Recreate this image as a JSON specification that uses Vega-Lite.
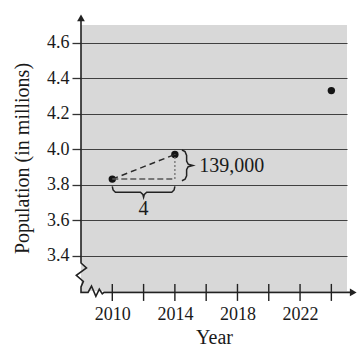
{
  "$schema": "https://vega.github.io/schema/vega-lite/v6.json",
  "width": 266,
  "height": 266,
  "autosize": "none",
  "padding": {"left": 81, "top": 25, "right": 14, "bottom": 58},
  "config": {"view": {"fill": "#d8d8d8", "stroke": null}, "font": "Liberation Serif", "background": "white"},
  "layer": [
    {
      "data": {"values": [{"x": 2010, "y": 3.831}, {"x": 2014, "y": 3.970}, {"x": 2024, "y": 4.33}]},
      "mark": {"type": "point", "filled": true, "size": 55, "color": "#151515", "opacity": 1},
      "encoding": {
        "x": {"field": "x", "type": "quantitative", "scale": {"domain": [2008, 2025], "nice": false, "zero": false},
          "axis": {"values": [2010, 2014, 2018, 2022], "format": "d", "grid": false, "ticks": false, "domain": false,
            "labelPadding": 14, "labelFontSize": 18, "labelColor": "#1a1a1a", "labelFont": "Liberation Serif",
            "title": "Year", "titleFontSize": 20, "titleFontWeight": "normal", "titleColor": "#1a1a1a", "titleFont": "Liberation Serif", "titlePadding": 4}},
        "y": {"field": "y", "type": "quantitative", "scale": {"domain": [3.2, 4.7], "nice": false, "zero": false},
          "axis": {"values": [3.4, 3.6, 3.8, 4.0, 4.2, 4.4, 4.6], "format": ".1f", "grid": true, "gridColor": "#404040", "gridWidth": 1.2, "gridOpacity": 1,
            "ticks": true, "tickSize": 9, "tickColor": "#333", "tickWidth": 1.3, "domain": false,
            "labelPadding": 3, "labelFontSize": 18, "labelColor": "#1a1a1a", "labelFont": "Liberation Serif",
            "title": "Population (in millions)", "titleFontSize": 20, "titleFontWeight": "normal", "titleColor": "#1a1a1a", "titleFont": "Liberation Serif", "titlePadding": 14}}
      }
    },
    {
      "data": {"values": [{"x": 2010}, {"x": 2012}, {"x": 2014}, {"x": 2016}, {"x": 2018}, {"x": 2020}, {"x": 2022}, {"x": 2024}]},
      "mark": {"type": "tick", "orient": "vertical", "size": 17, "thickness": 1.4, "color": "#222", "opacity": 1},
      "encoding": {
        "x": {"field": "x", "type": "quantitative"},
        "y": {"datum": 3.192, "type": "quantitative"}
      }
    },
    {
      "data": {"values": [
        {"i": 0, "x": 2008, "y": 4.745}, {"i": 1, "x": 2008, "y": 3.358}, {"i": 2, "x": 2008.35, "y": 3.33},
        {"i": 3, "x": 2007.7, "y": 3.288}, {"i": 4, "x": 2008.15, "y": 3.254}, {"i": 5, "x": 2008, "y": 3.223},
        {"i": 6, "x": 2008, "y": 3.192}, {"i": 7, "x": 2008.45, "y": 3.192}, {"i": 8, "x": 2008.67, "y": 3.228},
        {"i": 9, "x": 2008.95, "y": 3.17}, {"i": 10, "x": 2009.17, "y": 3.21}, {"i": 11, "x": 2009.36, "y": 3.184},
        {"i": 12, "x": 2009.47, "y": 3.192}, {"i": 13, "x": 2025.45, "y": 3.192}
      ]},
      "mark": {"type": "line", "color": "#222", "strokeWidth": 1.6, "clip": false},
      "encoding": {
        "x": {"field": "x", "type": "quantitative"},
        "y": {"field": "y", "type": "quantitative"},
        "order": {"field": "i", "type": "quantitative"}
      }
    },
    {
      "data": {"values": [{"x": 2008, "y": 4.74, "s": "triangle-up"}, {"x": 2025.4, "y": 3.192, "s": "triangle-right"}]},
      "mark": {"type": "point", "filled": true, "size": 60, "color": "#222", "opacity": 1},
      "encoding": {
        "x": {"field": "x", "type": "quantitative"},
        "y": {"field": "y", "type": "quantitative"},
        "shape": {"field": "s", "type": "nominal", "scale": null, "legend": null}
      }
    },
    {
      "data": {"values": [{"x": 2010, "y": 3.831}, {"x": 2014, "y": 3.970}]},
      "mark": {"type": "line", "color": "#2a2a2a", "strokeWidth": 1.5, "strokeDash": [6, 4]},
      "encoding": {
        "x": {"field": "x", "type": "quantitative"},
        "y": {"field": "y", "type": "quantitative"}
      }
    },
    {
      "data": {"values": [{"x": 2010, "y": 3.831}, {"x": 2014, "y": 3.831}]},
      "mark": {"type": "line", "color": "#555", "strokeWidth": 1.5, "strokeDash": [6, 3]},
      "encoding": {
        "x": {"field": "x", "type": "quantitative"},
        "y": {"field": "y", "type": "quantitative"}
      }
    },
    {
      "data": {"values": [{"x": 2014, "y": 3.831}, {"x": 2014, "y": 3.970}]},
      "mark": {"type": "line", "color": "#777", "strokeWidth": 1.4, "strokeDash": [2, 2]},
      "encoding": {
        "x": {"field": "x", "type": "quantitative"},
        "y": {"field": "y", "type": "quantitative"}
      }
    },
    {
      "data": {"values": [
        {"b": "h", "i": 0, "x": 2010, "y": 3.79}, {"b": "h", "i": 1, "x": 2010.05, "y": 3.77}, {"b": "h", "i": 2, "x": 2010.2, "y": 3.757},
        {"b": "h", "i": 3, "x": 2011.8, "y": 3.757}, {"b": "h", "i": 4, "x": 2011.95, "y": 3.745}, {"b": "h", "i": 5, "x": 2012, "y": 3.728},
        {"b": "h", "i": 6, "x": 2012.05, "y": 3.745}, {"b": "h", "i": 7, "x": 2012.2, "y": 3.757}, {"b": "h", "i": 8, "x": 2013.8, "y": 3.757},
        {"b": "h", "i": 9, "x": 2013.95, "y": 3.77}, {"b": "h", "i": 10, "x": 2014, "y": 3.79},
        {"b": "v", "i": 0, "x": 2014.45, "y": 3.995}, {"b": "v", "i": 1, "x": 2014.65, "y": 3.986}, {"b": "v", "i": 2, "x": 2014.75, "y": 3.965},
        {"b": "v", "i": 3, "x": 2014.75, "y": 3.932}, {"b": "v", "i": 4, "x": 2014.85, "y": 3.915}, {"b": "v", "i": 5, "x": 2015.15, "y": 3.908},
        {"b": "v", "i": 6, "x": 2014.85, "y": 3.901}, {"b": "v", "i": 7, "x": 2014.75, "y": 3.884}, {"b": "v", "i": 8, "x": 2014.75, "y": 3.85},
        {"b": "v", "i": 9, "x": 2014.65, "y": 3.83}, {"b": "v", "i": 10, "x": 2014.45, "y": 3.822}
      ]},
      "mark": {"type": "line", "color": "#222", "strokeWidth": 1.5},
      "encoding": {
        "x": {"field": "x", "type": "quantitative"},
        "y": {"field": "y", "type": "quantitative"},
        "detail": {"field": "b", "type": "nominal"},
        "order": {"field": "i", "type": "quantitative"}
      }
    },
    {
      "data": {"values": [{"x": 2012, "y": 3.665, "t": "4"}]},
      "mark": {"type": "text", "fontSize": 20, "font": "Liberation Serif", "color": "#1a1a1a", "baseline": "middle", "align": "center"},
      "encoding": {
        "x": {"field": "x", "type": "quantitative"},
        "y": {"field": "y", "type": "quantitative"},
        "text": {"field": "t"}
      }
    },
    {
      "data": {"values": [{"x": 2015.55, "y": 3.905, "t": "139,000"}]},
      "mark": {"type": "text", "fontSize": 20, "font": "Liberation Serif", "color": "#1a1a1a", "baseline": "middle", "align": "left"},
      "encoding": {
        "x": {"field": "x", "type": "quantitative"},
        "y": {"field": "y", "type": "quantitative"},
        "text": {"field": "t"}
      }
    }
  ]
}
